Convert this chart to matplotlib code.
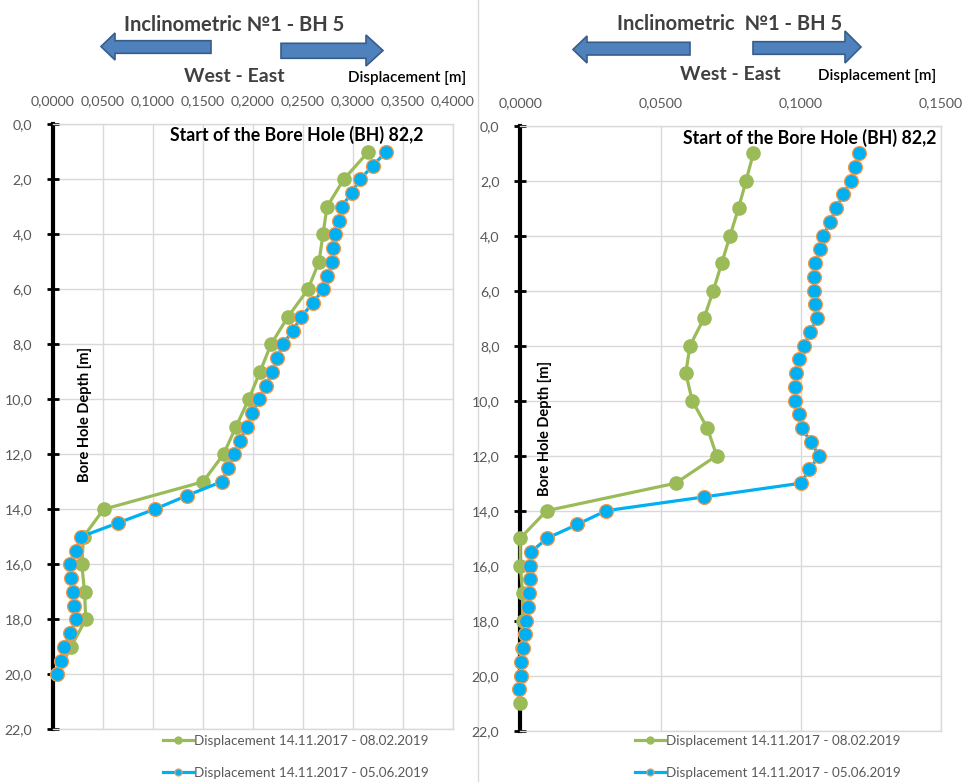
import matplotlib
matplotlib.use("Agg")
import matplotlib.pyplot as plt
from matplotlib.patches import Polygon
import numpy as np

plt.rcParams['font.family'] = ['Lato', 'DejaVu Sans']

# ---------------- data ----------------
# Left chart
left_green_depth = [1, 2, 3, 4, 5, 6, 7, 8, 9, 10, 11, 12, 13, 14, 15, 16, 17, 18, 19, 20]
left_green_disp = [0.3153, 0.2908, 0.2740, 0.2700, 0.2660, 0.2550, 0.2350, 0.2180, 0.2070,
                   0.1957, 0.1830, 0.1705, 0.1500, 0.0506, 0.0305, 0.0288, 0.0315, 0.0328,
                   0.0180, 0.0040]
left_blue_depth = [1, 1.5, 2, 2.5, 3, 3.5, 4, 4.5, 5, 5.5, 6, 6.5, 7, 7.5, 8, 8.5, 9, 9.5, 10,
                   10.5, 11, 11.5, 12, 12.5, 13, 13.5, 14, 14.5, 15, 15.5, 16, 16.5, 17, 17.5,
                   18, 18.5, 19, 19.5, 20]
left_blue_disp = [0.3330, 0.3200, 0.3070, 0.2985, 0.2885, 0.2860, 0.2824, 0.2800, 0.2794,
                  0.2740, 0.2700, 0.2600, 0.2480, 0.2400, 0.2298, 0.2240, 0.2190, 0.2130,
                  0.2064, 0.1990, 0.1937, 0.1870, 0.1806, 0.1750, 0.1685, 0.1340, 0.1015,
                  0.0646, 0.0278, 0.0228, 0.0171, 0.0180, 0.0204, 0.0214, 0.0231, 0.0171,
                  0.0110, 0.0077, 0.0037]

# Right chart
right_green_depth = [1, 2, 3, 4, 5, 6, 7, 8, 9, 10, 11, 12, 13, 14, 15, 16, 17, 18, 19, 20, 21]
right_green_disp = [0.0831, 0.0805, 0.0778, 0.0748, 0.0718, 0.0688, 0.0655, 0.0605, 0.0590,
                    0.0613, 0.0667, 0.0700, 0.0554, 0.0094, 0.0000, 0.0000, 0.0008, 0.0008,
                    0.0006, 0.0004, 0.0000]
right_blue_depth = left_blue_depth + [20.5]
right_blue_disp = [0.1208, 0.1194, 0.1178, 0.1152, 0.1126, 0.1104, 0.1081, 0.1069, 0.1051,
                   0.1047, 0.1047, 0.1051, 0.1057, 0.1033, 0.1012, 0.0995, 0.0982, 0.0980,
                   0.0980, 0.0994, 0.1004, 0.1036, 0.1065, 0.1031, 0.1000, 0.0655, 0.0306,
                   0.0203, 0.0096, 0.0038, 0.0035, 0.0035, 0.0031, 0.0026, 0.0020, 0.0017,
                   0.0009, 0.0002, 0.0002, -0.0005]

label_green = "Displacement 14.11.2017 - 08.02.2019"
label_blue = "Displacement 14.11.2017 - 05.06.2019"
y_ticks = np.arange(0, 23, 2)
left_x_ticks = np.arange(0, 0.4001, 0.05)
right_x_ticks = np.arange(0, 0.1501, 0.05)

GREEN = "#9BBB59"
BLUE = "#00B0F0"
ORANGE = "#F79646"
GRID = "#D9D9D9"
TXT = "#595959"

W, H = 963, 782
fig = plt.figure(figsize=(W / 100, H / 100), dpi=100)
fig.patch.set_facecolor("white")


def px_ax(x0, y0, x1, y1):
    return fig.add_axes([x0 / W, 1 - y1 / H, (x1 - x0) / W, (y1 - y0) / H])


def setup(ax, xticks, xmax):
    ax.set_xlim(0, xmax)
    ax.set_ylim(22, 0)
    ax.xaxis.set_ticks_position('top')
    ax.set_xticks(xticks)
    ax.set_xticklabels([f"{v:.4f}".replace('.', ',') for v in xticks])
    ax.set_yticks(y_ticks)
    ax.set_yticklabels([f"{v:.1f}".replace('.', ',') for v in y_ticks])
    ax.tick_params(axis='x', length=0, pad=12, labelsize=10.2, labelcolor=TXT)
    ax.tick_params(axis='y', direction='inout', length=8, width=2, color='black',
                   pad=11, labelsize=10.2, labelcolor=TXT)
    ax.grid(True, color=GRID, lw=1)
    ax.set_axisbelow(True)
    for s in ['top', 'bottom', 'right']:
        ax.spines[s].set_color(GRID)
        ax.spines[s].set_linewidth(1)
    ax.spines['left'].set_color('black')
    ax.spines['left'].set_linewidth(3)


def draw(ax, gd, gx, bd, bx):
    ax.plot(gx, gd, color=GREEN, lw=2.3, marker='o', ms=9.5, mfc=GREEN, mec=GREEN,
            label=label_green, clip_on=False, zorder=3)
    ax.plot(bx, bd, color=BLUE, lw=2.3, marker='o', ms=10, mfc=BLUE, mec=ORANGE,
            mew=0.9, label=label_blue, clip_on=False, zorder=4)


axL = px_ax(53, 124.3, 453, 729.3)
setup(axL, left_x_ticks, 0.4)
draw(axL, left_green_depth, left_green_disp, left_blue_depth, left_blue_disp)

axR = px_ax(520.3, 125.7, 941, 730.7)
setup(axR, right_x_ticks, 0.15)
draw(axR, right_green_depth, right_green_disp, right_blue_depth, right_blue_disp)

# overlay for annotations in pixel coordinates
ov = fig.add_axes([0, 0, 1, 1], zorder=-1)
ov.set_xlim(0, W)
ov.set_ylim(H, 0)
ov.axis('off')
ov.plot([478, 478], [0, H], color=GRID, lw=1)


def block_arrow(tail, hb, tip, hy0, hy1, sy0, sy1):
    pts = [(tip, (hy0 + hy1) / 2), (hb, hy0), (hb, sy0), (tail, sy0), (tail, sy1), (hb, sy1), (hb, hy1)]
    ov.add_patch(Polygon(pts, closed=True, fc="#4F81BD", ec="#385D8A", lw=1.2))


block_arrow(211, 115, 101, 33, 60, 40.7, 53.3)
block_arrow(281, 366, 383, 35, 66, 43.3, 58.3)
block_arrow(690, 587, 573, 36, 63, 42.3, 55)
block_arrow(753, 845, 861, 31, 63, 41.7, 54.3)

TT = "#404040"
ov.text(234.5, 25, "Inclinometric №1 - BH 5", ha='center', va='center', fontsize=14.5,
        fontweight='bold', color=TT)
ov.text(730, 24, "Inclinometric  №1 - BH 5", ha='center', va='center', fontsize=14.5,
        fontweight='bold', color=TT)
ov.text(234, 76, "West - East", ha='center', va='center', fontsize=14, fontweight='bold', color=TT)
ov.text(730, 75, "West - East", ha='center', va='center', fontsize=14, fontweight='bold', color=TT)
ov.text(407, 78, "Displacement [m]", ha='center', va='center', fontsize=11, fontweight='semibold', color='black')
ov.text(877, 76, "Displacement [m]", ha='center', va='center', fontsize=11, fontweight='semibold', color='black')

fig.text(423 / W, 1 - 135 / H, "Start of the Bore Hole (BH) 82,2", ha='right', va='center',
         fontsize=12.8, fontweight='bold', color='black', zorder=10)
fig.text(936 / W, 1 - 138 / H, "Start of the Bore Hole (BH) 82,2", ha='right', va='center',
         fontsize=12.8, fontweight='bold', color='black', zorder=10)
fig.text(85 / W, 1 - 414 / H, "Bore Hole Depth [m]", rotation=90, ha='center', va='center',
         fontsize=10.5, fontweight='bold', color='black', zorder=10)
fig.text(545 / W, 1 - 428 / H, "Bore Hole Depth [m]", rotation=90, ha='center', va='center',
         fontsize=10.5, fontweight='bold', color='black', zorder=10)


def legend(ax, x, y):
    leg = ax.legend(loc='upper left', bbox_to_anchor=(x / W, 1 - y / H),
                    bbox_transform=fig.transFigure, frameon=False, fontsize=9.7,
                    labelcolor=TXT, handlelength=2.2, handletextpad=0.1,
                    labelspacing=1.5, borderpad=0, borderaxespad=0)
    for ln in leg.get_lines():
        ln.set_markersize(5)
    return leg


legend(axL, 163, 735)
legend(axR, 635, 735)

fig.savefig("out.png", dpi=100)
